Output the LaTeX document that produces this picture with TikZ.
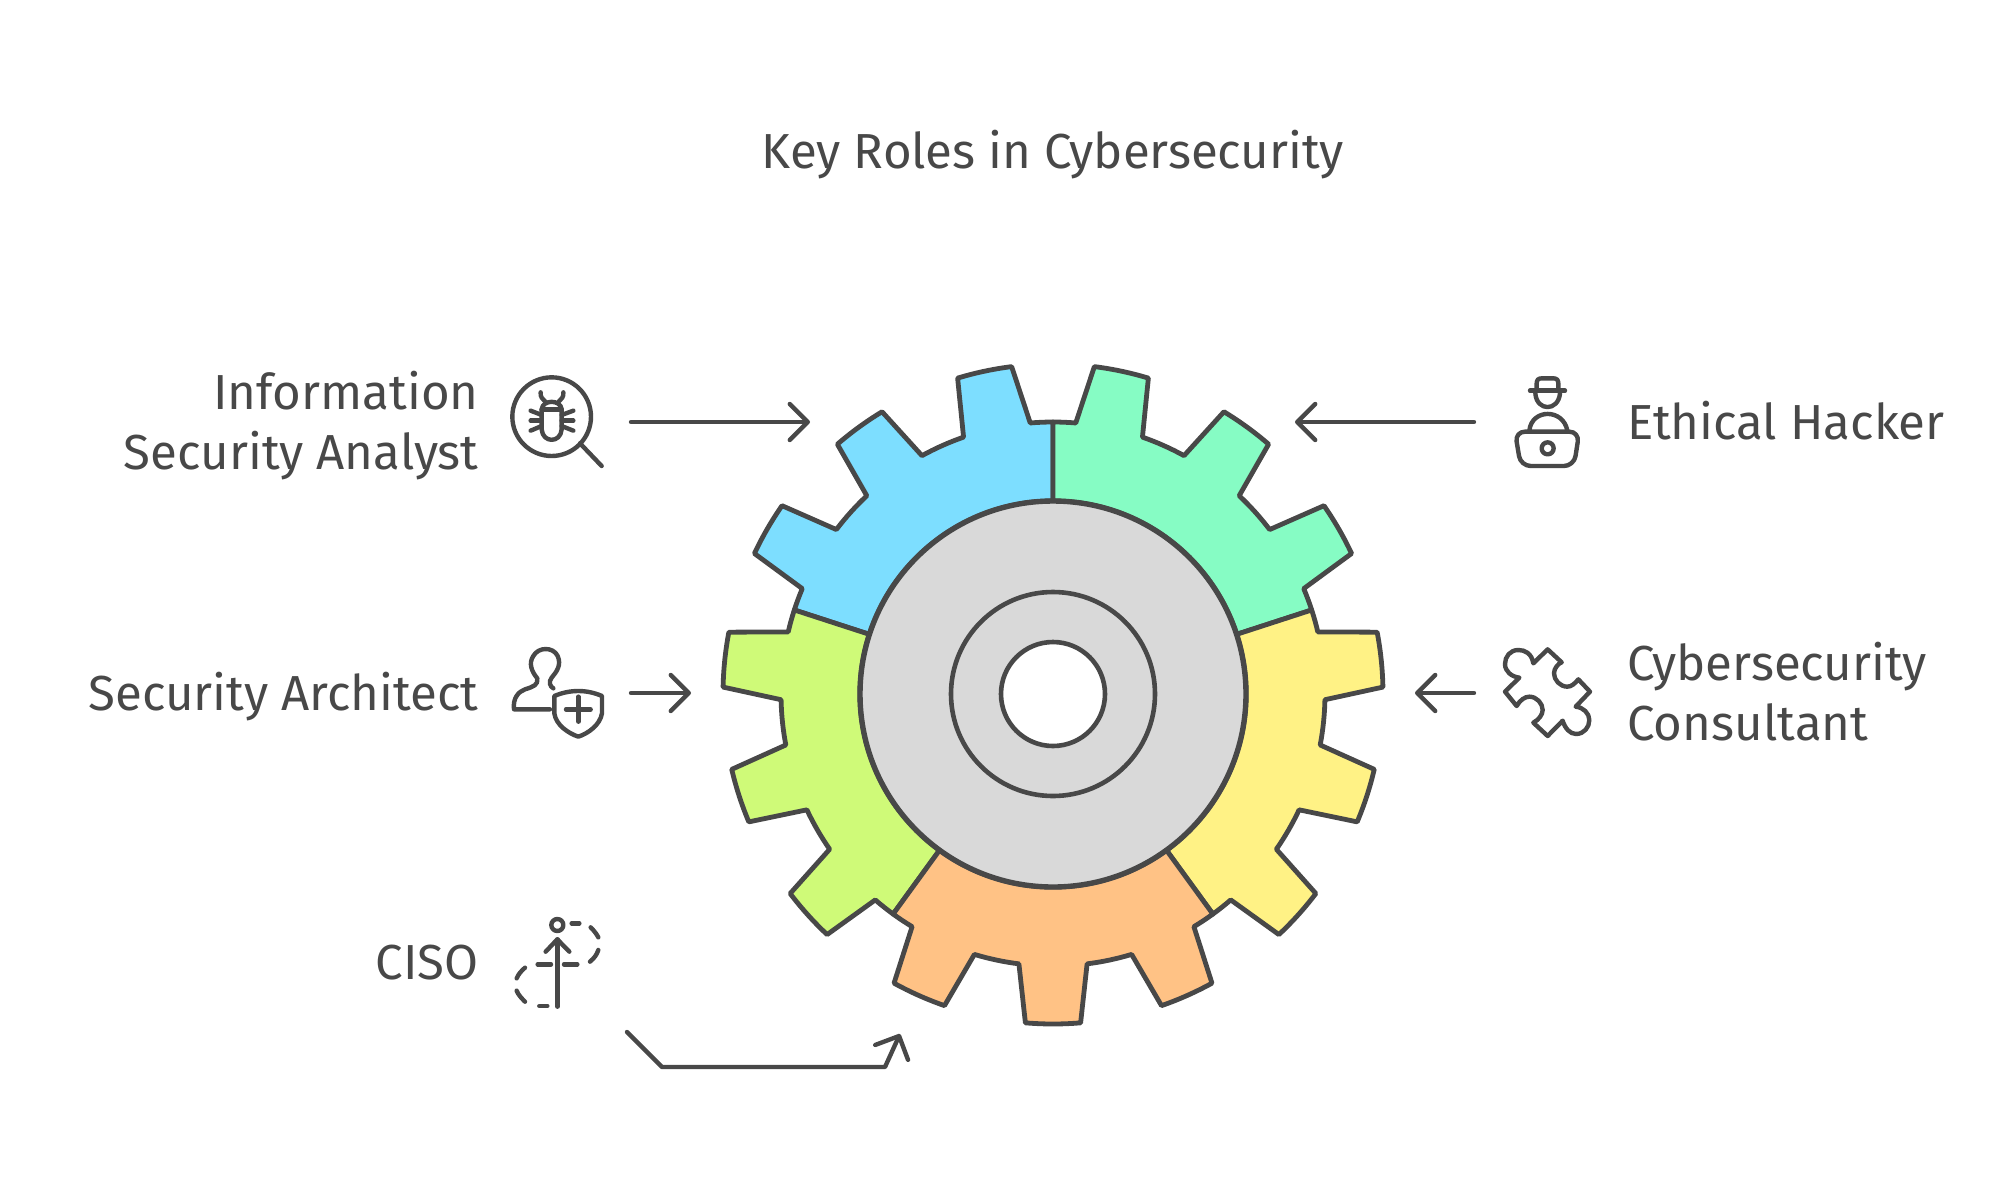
\documentclass[tikz,border=0pt]{standalone}
\usepackage{fontspec}
\setmainfont{Fira Sans}
\usetikzlibrary{arrows.meta}
\definecolor{inkgray}{HTML}{484848}
\definecolor{partblue}{HTML}{7DDEFF}
\definecolor{partmint}{HTML}{86FCC4}
\definecolor{partyellow}{HTML}{FFF285}
\definecolor{partlime}{HTML}{CFFA78}
\definecolor{partorange}{HTML}{FFC285}
\definecolor{hubgray}{HTML}{D9D9D9}
\tikzset{
    gearpart/.style={draw=inkgray,line width=2.4pt,line join=round},
    hubring/.style={draw=inkgray,line width=2.7pt},
    arrowline/.style={draw=inkgray,line width=2.2pt,line cap=round,line join=round,
        -{Straight Barb[length=9pt,width=18pt,line cap=round,line join=round]}},
    iconline/.style={draw=inkgray,line width=2.2pt,line cap=round,line join=round},
    iconbox/.style={shift={(#1)},xscale=0.3333,yscale=-0.3333},
    rolelabel/.style={text=inkgray,font=\fontsize{24.6}{30}\selectfont,inner sep=0pt},
}
\begin{document}
\begin{tikzpicture}[x=0.5pt,y=0.5pt]
    \useasboundingbox (0,0) rectangle (2015,-1190);

    \node[rolelabel] (title) at (1053,-155) {Key Roles in Cybersecurity};
    \node[rolelabel,anchor=east,align=right] (analyst) at (479,-426) {Information\\Security Analyst};
    \node[rolelabel,anchor=east] (architect) at (479,-697) {Security Architect};
    \node[rolelabel,anchor=east] (ciso) at (479,-963) {CISO};
    \node[rolelabel,anchor=west] (hacker) at (1627,-421) {Ethical Hacker};
    \node[rolelabel,anchor=west,align=left] (consultant) at (1627,-692) {Cybersecurity\\Consultant};

    \begin{scope}[shift={(1053,-694)}]
        \foreach \a/\c in {90/partblue,18/partmint,162/partlime,306/partyellow,234/partorange}
        {
            \draw[gearpart,fill=\c] (\a:193) -- (\a:272)
                arc[start angle=\a,delta angle=4.8,radius=272]
                \foreach \t/\d in {12/9.6,36/9.6,60/4.8}
                {
                    -- ({\a+\t-4.8}:330) arc[start angle=\a+\t-4.8,delta angle=9.6,radius=330]
                    -- ({\a+\t+7.2}:272) arc[start angle=\a+\t+7.2,delta angle=\d,radius=272]
                }
                -- ({\a+72}:193) arc[start angle=\a+72,delta angle=-72,radius=193] -- cycle;
        }
        \draw[hubring,fill=hubgray] (0,0) circle[radius=193];
        \draw[hubring,line width=2.3pt] (0,0) circle[radius=102];
        \draw[hubring,line width=2.3pt,fill=white] (0,0) circle[radius=52];
    \end{scope}

    \coordinate (analystout) at (631,-422);
    \coordinate (analystin) at (810,-422);
    \coordinate (hackerout) at (1474,-422);
    \coordinate (hackerin) at (1295,-422);
    \coordinate (architectout) at (631,-693);
    \coordinate (architectin) at (691,-693);
    \coordinate (consultantout) at (1474,-693);
    \coordinate (consultantin) at (1415,-693);
    \coordinate (cisoout) at (627,-1032);
    \coordinate (cisobend) at (662,-1067);
    \coordinate (cisoturn) at (885,-1067);
    \coordinate (cisoin) at (900,-1034);

    \draw[arrowline] (analystout) -- (analystin);
    \draw[arrowline] (hackerout) -- (hackerin);
    \draw[arrowline] (architectout) -- (architectin);
    \draw[arrowline] (consultantout) -- (consultantin);
    \draw[arrowline] (cisoout) -- (cisobend) -- (cisoturn) -- (cisoin);

    % bug under a lens
    \begin{scope}[iconbox={490,-360}]
        \draw[iconline] (185,170) circle[radius=118];
        \draw[iconline] (270,250) -- (335,318);
        \draw[iconline] (155,148) .. controls (158,118) and (212,118) .. (215,148)
            -- (215,208) .. controls (212,250) and (158,250) .. (155,208) -- cycle;
        \draw[iconline] (155,148) -- (215,148);
        \draw[iconline] (152,97) .. controls (150,110) and (158,118) .. (165,124);
        \draw[iconline] (220,97) .. controls (222,110) and (214,118) .. (207,124);
        \foreach \y/\z in {152/165,182/182,212/198}
        {
            \draw[iconline] (122,\y) -- (155,\z);
            \draw[iconline] (250,\y) -- (215,\z);
        }
    \end{scope}

    % person with a shield
    \begin{scope}[iconbox={490,-630}]
        \draw[iconline] (180,238) -- (72,238) .. controls (68,205) and (85,185) .. (105,178)
            .. controls (130,170) and (145,165) .. (142,145)
            .. controls (125,125) and (115,100) .. (130,78)
            .. controls (145,50) and (190,50) .. (203,78)
            .. controls (215,105) and (200,125) .. (185,143)
            .. controls (175,155) and (180,170) .. (190,175);
        \draw[iconline] (193,198) .. controls (240,178) and (290,178) .. (336,198)
            -- (336,250) .. controls (330,285) and (295,310) .. (265,320)
            .. controls (235,310) and (198,285) .. (193,250) -- cycle;
        \draw[iconline] (228,238) -- (302,238);
        \draw[iconline] (265,200) -- (265,275);
    \end{scope}

    % dashed path with a rising arrow
    \begin{scope}[iconbox={490,-900}]
        \draw[iconline] (202,75) circle[radius=18];
        \draw[iconline] (202,320) -- (202,118);
        \draw[iconline] (167,155) -- (202,118) -- (238,155);
        \draw[iconline] (245,70) -- (268,70);
        \draw[iconline] (302,82) .. controls (312,92) and (320,102) .. (325,112);
        \draw[iconline] (325,150) .. controls (320,165) and (312,175) .. (300,185);
        \draw[iconline] (222,193) -- (262,193);
        \draw[iconline] (143,193) -- (183,193);
        \draw[iconline] (105,203) .. controls (95,212) and (85,222) .. (80,235);
        \draw[iconline] (80,272) .. controls (85,285) and (95,295) .. (105,305);
        \draw[iconline] (148,318) -- (172,318);
    \end{scope}

    % person in a hat behind a laptop
    \begin{scope}[iconbox={1480,-360}]
        \draw[iconline] (150,92) -- (255,92);
        \draw[iconline] (170,92) -- (170,70) .. controls (170,60) and (175,55) .. (185,55)
            -- (220,55) .. controls (230,55) and (235,60) .. (235,70) -- (235,92);
        \draw[iconline] (166,100) .. controls (170,155) and (235,155) .. (240,100);
        \draw[iconline] (148,212) .. controls (155,145) and (250,145) .. (262,212);
        \draw[iconline,rounded corners=5pt] (105,215) -- (298,215) -- (282,318) -- (122,318) -- cycle;
        \draw[iconline] (203,265) circle[radius=18];
    \end{scope}

    % jigsaw piece
    \begin{scope}[iconbox={1480,-630}]
        \draw[iconline] (160,100) .. controls (155,70) and (135,60) .. (115,60)
            .. controls (90,60) and (75,80) .. (75,102)
            .. controls (75,125) and (95,140) .. (118,143) -- (75,185) -- (110,228)
            .. controls (120,210) and (135,200) .. (148,200)
            .. controls (170,200) and (188,220) .. (188,240)
            .. controls (188,255) and (175,270) .. (160,278) -- (203,318) -- (248,272)
            .. controls (255,295) and (270,312) .. (288,312)
            .. controls (312,312) and (328,292) .. (328,270)
            .. controls (328,250) and (310,232) .. (287,230) -- (330,185) -- (295,148)
            .. controls (285,160) and (275,170) .. (262,170)
            .. controls (240,170) and (222,150) .. (222,130)
            .. controls (222,115) and (235,100) .. (245,97) -- (203,58) -- cycle;
    \end{scope}
\end{tikzpicture}
\end{document}
